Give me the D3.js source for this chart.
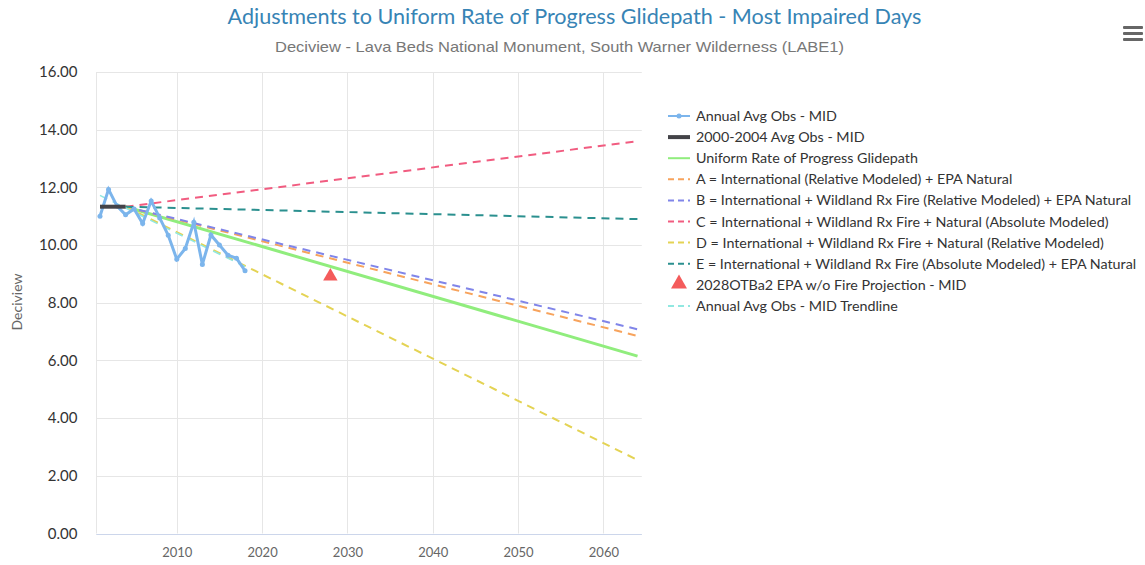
<!DOCTYPE html>
<html>
<head>
<meta charset="utf-8">
<script src="https://cdn.jsdelivr.net/npm/d3@7"></script>
<style>
  body { margin: 0; background: #fff; }
  svg text { font-family: Lato, "Open Sans", sans-serif; }
</style>
</head>
<body>
<div id="chart"></div>
<script>
// annual observations (MID)
var years = [2001, 2002, 2003, 2004, 2005, 2006, 2007, 2008, 2009, 2010, 2011, 2012, 2013, 2014, 2015, 2016, 2017, 2018];
var annualObs = [11.0, 11.93, 11.35, 11.05, 11.25, 10.75, 11.53, 10.94, 10.34, 9.51, 9.88, 10.79, 9.33, 10.35, 10.0, 9.65, 9.54, 9.11];

var baseYears = [2001, 2004];
var baseVals = [11.33, 11.33];

// glidepaths start at 2004 and end at 2064
var pathYears = [2004, 2064];
var glideVals = [11.33, 6.15];
var aVals = [11.33, 6.85];
var bVals = [11.33, 7.08];
var cVals = [11.33, 13.6];
var dVals = [11.33, 2.55];
var eVals = [11.33, 10.9];

var trendYears = [2001, 2018];
var trendVals = [11.72, 9.25];

var projYear = [2028];
var projVal = [8.92];

var yTicks = [0, 2, 4, 6, 8, 10, 12, 14, 16];
var xTicks = [2010, 2020, 2030, 2040, 2050, 2060];

var legendNames = [
  "Annual Avg Obs - MID",
  "2000-2004 Avg Obs - MID",
  "Uniform Rate of Progress Glidepath",
  "A = International (Relative Modeled) + EPA Natural",
  "B = International + Wildland Rx Fire (Relative Modeled) + EPA Natural",
  "C = International + Wildland Rx Fire + Natural (Absolute Modeled)",
  "D = International + Wildland Rx Fire + Natural (Relative Modeled)",
  "E = International + Wildland Rx Fire (Absolute Modeled) + EPA Natural",
  "2028OTBa2 EPA w/o Fire Projection - MID",
  "Annual Avg Obs - MID Trendline"
];
var colors = ["#7cb5ec", "#434348", "#90ed7d", "#f7a35c", "#8085e9", "#f15c80", "#e4d354", "#2b908f", "#f45b5b", "#91e8e1"];

var W = 1145, H = 565;
var svg = d3.select("#chart").append("svg").attr("width", W).attr("height", H);

var x = d3.scaleLinear().domain([2000.58, 2064.5]).range([96.4, 641.8]);
var y = d3.scaleLinear().domain([0, 16]).range([533.5, 72]);

// title
svg.append("text").attr("x", 574.5).attr("y", 24).attr("text-anchor", "middle")
  .style("font-size", "21.6px").style("fill", "#3784b5")
  .text("Adjustments to Uniform Rate of Progress Glidepath - Most Impaired Days");
svg.append("text").attr("x", 559.5).attr("y", 52).attr("text-anchor", "middle")
  .attr("textLength", 569).attr("lengthAdjust", "spacingAndGlyphs")
  .style("font-family", "'Liberation Sans', Arial, sans-serif").style("font-size", "15px").style("fill", "#777")
  .text("Deciview - Lava Beds National Monument, South Warner Wilderness (LABE1)");

// menu icon
svg.selectAll("rect.menu").data([0, 1, 2]).enter().append("rect")
  .attr("x", 1123).attr("y", function(d) { return 26 + d * 6; })
  .attr("width", 20).attr("height", 3).attr("rx", 1).style("fill", "#666");

// grid
svg.append("g").selectAll("line").data(yTicks).enter().append("line")
  .attr("x1", x.range()[0]).attr("x2", x.range()[1])
  .attr("y1", function(d) { return Math.round(y(d)) + 0.5; })
  .attr("y2", function(d) { return Math.round(y(d)) + 0.5; })
  .style("stroke", "#e6e6e6");
svg.append("g").selectAll("line").data(xTicks.concat([x.domain()[0]])).enter().append("line")
  .attr("x1", function(d) { return Math.round(x(d)) + 0.5; })
  .attr("x2", function(d) { return Math.round(x(d)) + 0.5; })
  .attr("y1", y(16)).attr("y2", y(0))
  .style("stroke", "#e6e6e6");
svg.append("line").attr("x1", x.range()[0]).attr("x2", x.range()[1])
  .attr("y1", 534.5).attr("y2", 534.5).style("stroke", "#ccd6eb");

// y axis
var yAxis = d3.axisLeft(y).tickValues(yTicks).tickFormat(d3.format(".2f")).tickSize(0).tickPadding(19);
var gy = svg.append("g").attr("transform", "translate(" + x.range()[0] + ",0)").call(yAxis);
gy.select(".domain").remove();
gy.selectAll("text").style("font-size", "15px").style("fill", "#333").style("font-family", "Lato, sans-serif");

var xAxis = d3.axisBottom(x).tickValues(xTicks).tickFormat(d3.format("d")).tickSize(0).tickPadding(14);
var gx = svg.append("g").attr("transform", "translate(0," + 534 + ")").call(xAxis);
gx.select(".domain").remove();
gx.selectAll("text").style("font-size", "13px").style("fill", "#666").style("font-family", "Lato, sans-serif");

svg.append("text").attr("transform", "translate(22,302) rotate(-90)").attr("text-anchor", "middle")
  .style("font-size", "14px").style("fill", "#666").text("Deciview");

// lines
var line = d3.line().x(function(d) { return x(d[0]); }).y(function(d) { return y(d[1]); });
function pts(xs, ys) { return xs.map(function(v, i) { return [v, ys[i]]; }); }

var dashed = [
  [aVals, colors[3]], [bVals, colors[4]], [cVals, colors[5]], [dVals, colors[6]], [eVals, colors[7]]
];
svg.append("path").attr("d", line(pts(pathYears, glideVals)))
  .style("fill", "none").style("stroke", colors[2]).style("stroke-width", 3);
dashed.forEach(function(s) {
  svg.append("path").attr("d", line(pts(pathYears, s[0])))
    .style("fill", "none").style("stroke", s[1]).style("stroke-width", 2).style("stroke-dasharray", "8,6");
});
svg.append("path").attr("d", line(pts(trendYears, trendVals)))
  .style("fill", "none").style("stroke", colors[9]).style("stroke-width", 1.5).style("stroke-dasharray", "8,6");

svg.append("path").attr("d", line(pts(years, annualObs)))
  .style("fill", "none").style("stroke", colors[0]).style("stroke-width", 3);
svg.append("g").selectAll("circle").data(pts(years, annualObs)).enter().append("circle")
  .attr("cx", function(d) { return x(d[0]); }).attr("cy", function(d) { return y(d[1]); })
  .attr("r", 2.5).style("fill", colors[0]);

svg.append("path").attr("d", line(pts(baseYears, baseVals)))
  .style("fill", "none").style("stroke", colors[1]).style("stroke-width", 4);

var tri = d3.symbol().type(d3.symbolTriangle).size(90);
svg.selectAll("path.proj").data(pts(projYear, projVal)).enter().append("path")
  .attr("transform", function(d) { return "translate(" + x(d[0]) + "," + y(d[1]) + ")"; })
  .attr("d", tri).style("fill", colors[8]);

// legend
var lg = svg.append("g").attr("transform", "translate(668,116)");
var rows = lg.selectAll("g").data(legendNames).enter().append("g")
  .attr("transform", function(d, i) { return "translate(0," + (i * 21.1) + ")"; });
rows.each(function(d, i) {
  var g = d3.select(this);
  if (i === 8) {
    g.append("path").attr("transform", "translate(11,-1)").attr("d", d3.symbol().type(d3.symbolTriangle).size(110)).style("fill", colors[i]);
  } else {
    var dash = (i >= 3) ? "6,4" : null;
    g.append("line").attr("x1", 0).attr("x2", 22).attr("y1", 0).attr("y2", 0)
      .style("stroke", colors[i]).style("stroke-width", i === 1 ? 4 : 2).style("stroke-dasharray", dash);
    if (i === 0) g.append("circle").attr("cx", 11).attr("r", 2.5).style("fill", colors[0]);
  }
  g.append("text").attr("x", 28).attr("y", 5).style("font-size", "14.3px").style("fill", "#333").text(d);
});
</script>
</body>
</html>
